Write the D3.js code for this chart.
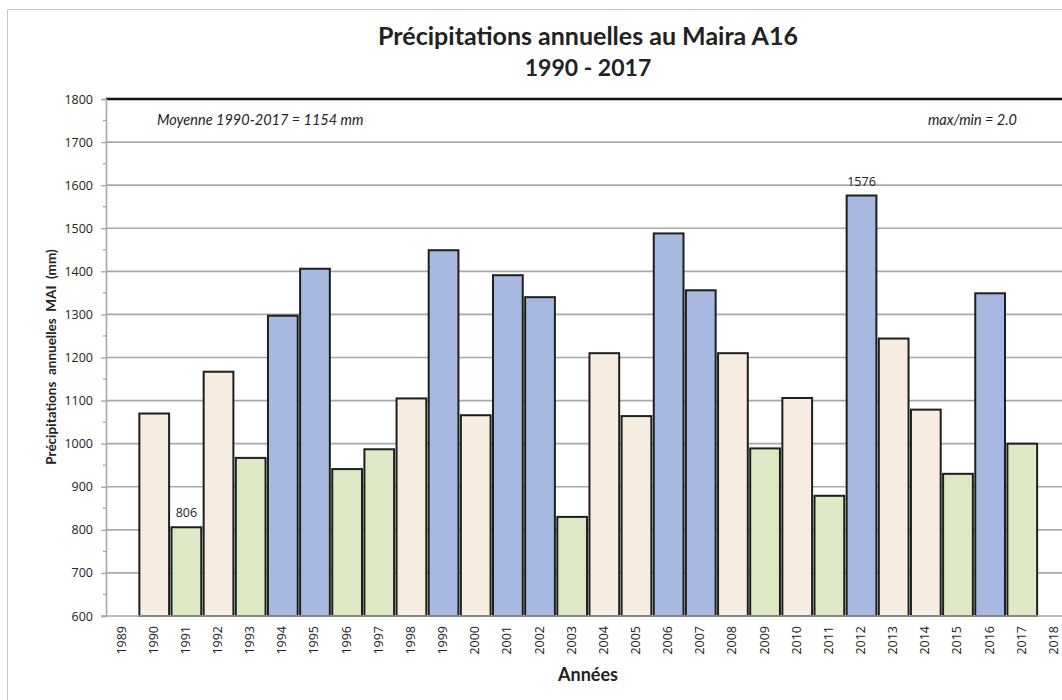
<!DOCTYPE html>
<html>
<head>
<meta charset="utf-8">
<script src="https://cdn.jsdelivr.net/npm/d3@7"></script>
<style>
  html, body { margin: 0; padding: 0; background: #ffffff; }
  svg { display: block; }
  text { font-family: Lato, "Open Sans", sans-serif; }
</style>
</head>
<body>
<svg id="chart" width="1062" height="700"></svg>
<script>
// Annual precipitation, Maira A16 station (mm)
const years = ["1989","1990","1991","1992","1993","1994","1995","1996","1997","1998",
               "1999","2000","2001","2002","2003","2004","2005","2006","2007","2008",
               "2009","2010","2011","2012","2013","2014","2015","2016","2017","2018"];
const barYears = ["1990","1991","1992","1993","1994","1995","1996","1997","1998","1999",
                  "2000","2001","2002","2003","2004","2005","2006","2007","2008","2009",
                  "2010","2011","2012","2013","2014","2015","2016","2017"];
const precip = [1070, 806, 1167, 967, 1297, 1406, 941, 987, 1105, 1449,
                1066, 1391, 1340, 830, 1210, 1064, 1488, 1356, 1210, 989,
                1106, 879, 1576, 1244, 1079, 930, 1349, 1000];
// year type: s = dry, m = average, h = wet
const yearType = ["m","s","m","s","h","h","s","s","m","h",
                  "m","h","h","s","m","m","h","h","m","s",
                  "m","s","h","m","m","s","h","s"];
const yTicks = [600, 700, 800, 900, 1000, 1100, 1200, 1300, 1400, 1500, 1600, 1700, 1800];
const labelledYears = ["1991", "2012"];

const fillFor = { s: "#dde8c5", m: "#f6ecdf", h: "#a7b9e0" };
const numFont = "'Open Sans', sans-serif";

const svg = d3.select("#chart");

// outer chart frame
svg.append("rect")
  .attr("x", 7.5).attr("y", 9.5)
  .attr("width", 1100).attr("height", 720)
  .attr("fill", "#ffffff")
  .attr("stroke", "#c4c4c4").attr("stroke-width", 1);

const plotLeft = 106, plotTop = 99, plotBottom = 616;
const bandStep = 32.15;

const x = d3.scaleBand()
  .domain(years)
  .range([plotLeft, plotLeft + bandStep * years.length])
  .paddingInner(0.075)
  .paddingOuter(0.0375);

const y = d3.scaleLinear()
  .domain([600, 1800])
  .range([plotBottom, plotTop]);

// horizontal gridlines
svg.append("g")
  .selectAll("line")
  .data(yTicks.filter(t => t > 600 && t < 1800))
  .join("line")
  .attr("x1", plotLeft).attr("x2", 1100)
  .attr("y1", d => y(d)).attr("y2", d => y(d))
  .attr("stroke", "#a9a9a9").attr("stroke-width", 1.6);

// bars
svg.append("g")
  .selectAll("rect")
  .data(barYears.map((yr, i) => ({ yr, v: precip[i], t: yearType[i] })))
  .join("rect")
  .attr("x", d => x(d.yr))
  .attr("width", x.bandwidth())
  .attr("y", d => y(d.v))
  .attr("height", d => y(600) - y(d.v))
  .attr("fill", d => fillFor[d.t])
  .attr("stroke", "#1e1e1e")
  .attr("stroke-width", 2);

// top border of the plot area
svg.append("line")
  .attr("x1", plotLeft).attr("x2", 1100)
  .attr("y1", y(1800)).attr("y2", y(1800))
  .attr("stroke", "#111111").attr("stroke-width", 2.6);

// y axis
const yAxis = d3.axisLeft(y)
  .tickValues(yTicks)
  .tickSize(5)
  .tickPadding(8)
  .tickFormat(d3.format("d"));
const gy = svg.append("g")
  .attr("transform", `translate(${plotLeft},0)`)
  .call(yAxis);
gy.select(".domain").attr("stroke", "#a9a9a9").attr("stroke-width", 1.6);
gy.selectAll(".tick line").attr("stroke", "#a9a9a9").attr("stroke-width", 1.4);
gy.selectAll(".tick text")
  .attr("font-size", 12.5).attr("fill", "#222")
  .style("font-family", numFont);

// minor ticks at the half-hundreds
svg.append("g")
  .selectAll("line")
  .data(yTicks.slice(0, -1).map(t => t + 50))
  .join("line")
  .attr("x1", plotLeft - 3).attr("x2", plotLeft)
  .attr("y1", d => y(d)).attr("y2", d => y(d))
  .attr("stroke", "#a9a9a9").attr("stroke-width", 1.4);

// x axis baseline and year labels
svg.append("line")
  .attr("x1", plotLeft - 5).attr("x2", 1100)
  .attr("y1", plotBottom).attr("y2", plotBottom)
  .attr("stroke", "#a9a9a9").attr("stroke-width", 1.6);

svg.append("g")
  .selectAll("text")
  .data(years)
  .join("text")
  .attr("transform", d => `translate(${x(d) + x.bandwidth() / 2 + 3.5},${plotBottom + 10}) rotate(-90)`)
  .attr("text-anchor", "end")
  .attr("font-size", 12.5)
  .attr("fill", "#222")
  .style("font-family", numFont)
  .text(d => d);

// value labels on the extreme years
svg.append("g")
  .selectAll("text")
  .data(barYears.map((yr, i) => ({ yr, v: precip[i] })).filter(d => labelledYears.includes(d.yr)))
  .join("text")
  .attr("x", d => x(d.yr) + x.bandwidth() / 2)
  .attr("y", d => y(d.v) - 10)
  .attr("text-anchor", "middle")
  .attr("font-size", 12.5)
  .attr("fill", "#222")
  .style("font-family", numFont)
  .text(d => d.v);

// annotations
const mean = Math.round(d3.mean(precip));
const ratio = (d3.max(precip) / d3.min(precip)).toFixed(1);
svg.append("text")
  .attr("x", 157).attr("y", 125)
  .attr("font-size", 14.5).attr("font-style", "italic").attr("fill", "#222")
  .text(`Moyenne 1990-2017 = ${mean} mm`);
svg.append("text")
  .attr("x", 1017).attr("y", 125)
  .attr("text-anchor", "end")
  .attr("font-size", 14.5).attr("font-style", "italic").attr("fill", "#222")
  .text(`max/min = ${ratio}`);

// titles
svg.append("text")
  .attr("x", 588).attr("y", 45)
  .attr("text-anchor", "middle")
  .attr("font-size", 25).attr("font-weight", "bold").attr("fill", "#222")
  .text("Précipitations annuelles au Maira A16");
svg.append("text")
  .attr("x", 588).attr("y", 76)
  .attr("text-anchor", "middle")
  .attr("font-size", 23).attr("font-weight", "bold").attr("fill", "#222")
  .text("1990 - 2017");

svg.append("text")
  .attr("x", 588).attr("y", 681)
  .attr("text-anchor", "middle")
  .attr("font-size", 18).attr("font-weight", "bold").attr("fill", "#222")
  .text("Années");

svg.append("text")
  .attr("transform", "translate(56,357) rotate(-90)")
  .attr("text-anchor", "middle")
  .attr("font-size", 13.5).attr("font-weight", "bold").attr("fill", "#222")
  .style("white-space", "pre")
  .text("Précipitations  annuelles  MAI  (mm)");
</script>
</body>
</html>
